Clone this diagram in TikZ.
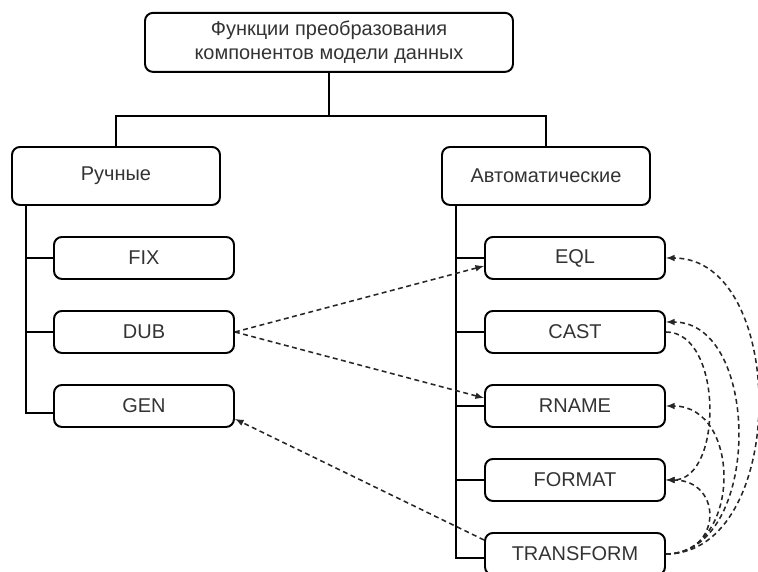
\documentclass[tikz,border=0pt]{standalone}
\usepackage{fontspec}
\setmainfont{Liberation Sans}
\usetikzlibrary{calc,positioning,arrows}
\tikzset{>=latex}

\begin{document}
\begin{tikzpicture}[box/.style={draw,rounded corners=0.2cm,line width=1.4pt,align=center,font=\fontsize{14.2}{17}\selectfont,text=black!80},
                    sub/.style={box,minimum width=4.5cm,minimum height=1.05cm},
                    tree/.style={line width=1.4pt},
                    lnk/.style={->,line width=1.1pt,dash pattern=on 3.5pt off 2.5pt,draw=black!85}]
              \useasboundingbox (0,0) rectangle (18.95,14.3);

              \node[box,minimum width=9.2cm,minimum height=1.475cm] (top) at (8.225,13.24) {Функции преобразования\\компонентов модели данных};
              \node[box,minimum width=5.2cm,minimum height=1.45cm] (man) at (2.9,9.9) {Ручные};
              \node[box,minimum width=5.2cm,minimum height=1.45cm] (aut) at (13.65,9.9) {Автоматические};

              \node[sub] (fix) at (3.6,7.85) {FIX};
              \node[sub] (dub) at (3.6,6.0) {DUB};
              \node[sub] (gen) at (3.6,4.15) {GEN};

              \node[sub] (eql) at (14.375,7.85) {EQL};
              \node[sub] (cast) at (14.375,6.0) {CAST};
              \node[sub] (rname) at (14.375,4.15) {RNAME};
              \node[sub] (fmt) at (14.375,2.3) {FORMAT};
              \node[sub] (tr) at (14.375,0.45) {TRANSFORM};

              % tree
              \coordinate (fork) at (8.225,11.4);
              \draw[tree] (top.south) -- (fork) -| (man.north);
              \draw[tree] (fork) -| (aut.north);
              \draw[tree] ([xshift=0.375cm]man.south west) |- (fix.west);
              \draw[tree] ([xshift=0.375cm]man.south west) |- (dub.west);
              \draw[tree] ([xshift=0.375cm]man.south west) |- ([yshift=-0.175cm]gen.west);
              \draw[tree] ([xshift=0.375cm]aut.south west) |- (eql.west);
              \draw[tree] ([xshift=0.375cm]aut.south west) |- (cast.west);
              \draw[tree] ([xshift=0.375cm]aut.south west) |- (rname.west);
              \draw[tree] ([xshift=0.375cm]aut.south west) |- (fmt.west);
              \draw[tree] ([xshift=0.375cm]aut.south west) |- ([yshift=-0.1cm]tr.west);

              % links
              \draw[lnk] (dub.east) -- ([yshift=-0.2cm]eql.west);
              \draw[lnk] (dub.east) -- ([yshift=0.2cm]rname.west);
              \draw[lnk] ([yshift=0.35cm]tr.west) -- ([yshift=-0.325cm]gen.east);
              \draw[lnk] (tr.east) .. controls +(3.07,0) and +(3.07,0) .. (eql.east);
              \draw[lnk] (tr.east) .. controls +(2.4,0) and +(2.4,0) .. ([yshift=0.25cm]cast.east);
              \draw[lnk] (tr.east) .. controls +(1.9,0) and +(1.9,0) .. (rname.east);
              \draw[lnk] (tr.east) .. controls +(1.43,0) and +(1.43,0) .. (fmt.east);
              \draw[lnk] (cast.east) .. controls +(1.43,0) and +(1.43,0) .. (fmt.east);
\end{tikzpicture}
\end{document}
